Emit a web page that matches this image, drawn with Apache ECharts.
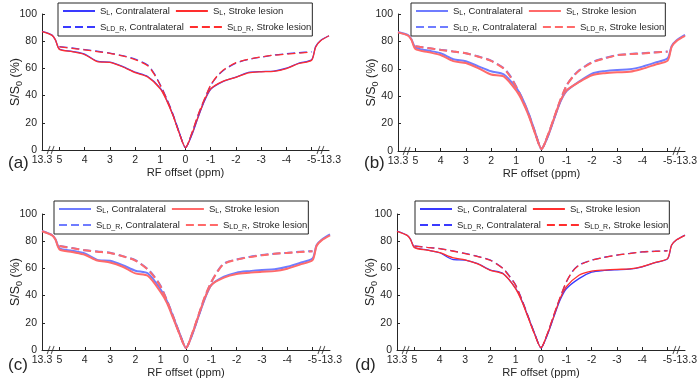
<!DOCTYPE html>
<html>
<head>
<meta charset="utf-8">
<script src="https://cdn.jsdelivr.net/npm/echarts@6/dist/echarts.min.js"></script>
<style>
  html, body { margin: 0; padding: 0; background: #fff; }
  #chart { width: 700px; height: 384px; }
</style>
</head>
<body>
<div id="chart"></div>
<script>
/* Z-spectra, 4 panels (a)-(d) — S_L vs S_LD_R, contralateral vs stroke lesion */

// ------------- data -------------
// RF offsets (ppm). |offset| > 5 falls inside the broken part of the x axis
const ppmSolid = [13.3, 8.5, 6.9, 5, 4.5, 4, 3.5, 3, 2.5, 2, 1.5, 1, 0.75, 0.5, 0.25, 0,
  -0.25, -0.5, -0.75, -1, -1.5, -2, -2.5, -3, -3.5, -4, -4.5, -5, -6.9, -9.3, -13.3];
const ppmLdr = [5, 4.5, 4, 3.5, 3, 2.5, 2, 1.5, 1.25, 1, 0.75, 0.5, 0.25, 0,
  -0.25, -0.5, -0.75, -1, -1.25, -1.5, -2, -2.5, -3, -3.5, -4, -4.5, -5];
const xTickPpm = [13.3, 5, 4, 3, 2, 1, 0, -1, -2, -3, -4, -5, -13.3];
const yTicks = [0, 20, 40, 60, 80, 100];
const panelLabels = ["(a)", "(b)", "(c)", "(d)"];

// S/S0 (%) — panel (a)
const aSlContra  = [87.2, 84.5, 81, 74.3, 72.5, 70.5, 65.3, 64.6, 61.5, 57.2, 54, 45.5, 37, 26, 13, 1.7, 11, 24, 36, 44.7, 50.4, 53.6, 57, 57.7, 58, 60.2, 63.9, 66.3, 76, 80.6, 84];
const aSlLesion  = [87, 84.3, 81, 74, 72.3, 70.2, 65, 64.4, 61.2, 56.9, 53.7, 45, 36.5, 25.5, 12.5, 1.8, 11.5, 24.5, 36.5, 45, 50.6, 53.4, 56.7, 57.5, 57.8, 59.9, 63.6, 66, 75.6, 80.3, 84];
const aLdrContra = [76, 75, 73.8, 72.6, 71.3, 69.4, 66.8, 62.5, 56.5, 48, 38, 26.5, 13, 1.7, 12, 25.5, 37, 47.5, 54, 58.5, 63.9, 66.6, 68.3, 69.8, 70.8, 71.6, 72.2];
const aLdrLesion = [75.8, 74.8, 73.6, 72.4, 71.1, 69.2, 66.5, 62, 56, 47.5, 37.5, 26, 12.5, 1.8, 12.5, 26, 37.5, 47.8, 54.3, 58.8, 64.2, 66.8, 68.4, 69.7, 70.5, 71.2, 72];
// panel (b)
const bSlContra  = [86.8, 84.5, 81.5, 75.5, 73.3, 71.3, 67, 65.5, 61.8, 58.2, 56, 46, 38, 27, 13.5, 1.5, 10.5, 23.5, 36, 44, 50.8, 56.5, 58.3, 59.2, 59.6, 61.6, 64.5, 67.7, 76.5, 80.8, 84.7];
const bSlLesion  = [86.6, 84.3, 81.2, 74.4, 72.2, 70.1, 65.6, 64.2, 60.4, 55.8, 54.5, 44, 36, 25.5, 12.5, 1.5, 11, 24, 36.5, 44.3, 50.4, 55.3, 56.8, 57.5, 57.8, 60, 63, 66, 76, 80.4, 84];
const bLdrContra = [76.5, 75.2, 73.9, 72.7, 71.4, 69, 66, 60.5, 55, 47, 37.5, 26.5, 13.5, 1.5, 11, 24, 37, 48, 54.5, 59, 64.8, 67.8, 70, 70.8, 71.4, 72, 72.6];
const bLdrLesion = [76.5, 75.1, 73.8, 72.6, 71.3, 68.8, 65.8, 60.2, 54.6, 46.5, 37, 26, 13, 1.5, 11.5, 24.5, 37.5, 48, 54.3, 58.8, 64.6, 67.6, 69.9, 70.7, 71.2, 71.9, 72.5];
// panel (c)
const cSlContra  = [87.5, 84.5, 81.5, 74.8, 73, 71, 66.2, 65.6, 62.4, 58.3, 56.3, 44.5, 36, 24, 12, 1.5, 11.5, 25, 38, 47.8, 53.9, 56.9, 58, 58.8, 59.3, 61.2, 64, 67.3, 77, 81, 85];
const cSlLesion  = [87.3, 84.3, 81.2, 74, 72, 70, 65.8, 64.4, 61.2, 56.3, 54.4, 42.5, 34.5, 23, 11.5, 1.5, 12, 25.5, 38.5, 47.8, 53.2, 55.9, 56.8, 57.6, 58, 59.8, 62.8, 66.1, 76.5, 80.6, 84.3];
const cLdrContra = [76.5, 75, 73.4, 72.4, 71.5, 69, 66, 59.3, 54, 47, 36.5, 24.5, 12, 1.5, 12, 25.5, 39, 50, 58, 63.7, 66.6, 68.4, 69.8, 70.8, 71.5, 72.2, 72.7];
const cLdrLesion = [76.4, 74.9, 73.3, 72.3, 71.4, 68.9, 65.8, 59, 53.6, 46.5, 36, 24, 11.5, 1.5, 12.5, 26, 39.5, 50, 57.8, 63.4, 66.4, 68.3, 69.7, 70.7, 71.4, 72.1, 72.6];
// panel (d)
const dSlContra  = [87.5, 84.4, 81.5, 75.5, 73.6, 71.5, 66.6, 66.1, 63.5, 58.8, 56.3, 45.4, 36, 24, 12, 1.6, 11, 24, 36.5, 45, 52.5, 57.2, 58.5, 59, 59.4, 61.2, 64.2, 67, 77, 81, 84.5];
const dSlLesion  = [87.3, 84.3, 81.3, 75.3, 73.4, 71.6, 68, 66.3, 63.3, 58.6, 56, 45, 35.5, 23.5, 11.5, 1.7, 11.5, 24.5, 37.5, 46.5, 55, 58, 58.8, 59.3, 59.6, 61.3, 64.3, 67.2, 77, 81, 84.3];
const dLdrContra = [76.5, 75.5, 74.6, 72.9, 71, 68.8, 66.1, 60, 54.5, 47.8, 37, 24.5, 12, 1.6, 11.5, 25, 38, 50, 58, 62.5, 66.1, 68.2, 69.8, 71, 72.2, 72.6, 73];
const dLdrLesion = [76.4, 75.4, 74.5, 72.8, 70.9, 68.7, 66, 59.8, 54.2, 47.5, 36.5, 24, 11.5, 1.7, 12, 25.5, 38.5, 50, 57.8, 62.3, 66, 68.1, 69.7, 70.9, 72.1, 72.5, 72.9];

// ------------- layout -------------
const PANELS = [
  {key: "a", sl: [aSlContra, aSlLesion], ldr: [aLdrContra, aLdrLesion],
   grid: {left: 42, top: 14, width: 287, height: 136}, legend: {left: 58, top: 3}, label: [8, 155], heavy: false},
  {key: "b", sl: [bSlContra, bSlLesion], ldr: [bLdrContra, bLdrLesion],
   grid: {left: 398, top: 14, width: 289, height: 137}, legend: {left: 411, top: 3}, label: [364, 155], heavy: true},
  {key: "c", sl: [cSlContra, cSlLesion], ldr: [cLdrContra, cLdrLesion],
   grid: {left: 42, top: 214, width: 288, height: 136}, legend: {left: 54, top: 201}, label: [8, 357], heavy: true},
  {key: "d", sl: [dSlContra, dSlLesion], ldr: [dLdrContra, dLdrLesion],
   grid: {left: 397, top: 214, width: 288, height: 136}, legend: {left: 415, top: 201}, label: [355, 357], heavy: false},
];

const BREAK_W = 0.69;     // width given to 5..13.3 ppm on the axis, in ppm units
const FONT = "Liberation Sans, Arial, sans-serif";
const INK = "#262626";
const BLUE = "#3a3aff", RED = "#ff2e2e";
const BLUE_L = "#6f7cff", RED_L = "#ff6a6a";

function toAxis(p) {
  const a = Math.abs(p);
  if (a <= 5) return p;
  return Math.sign(p) * (5 + (a - 5) * BREAK_W / 8.3);
}
function tickText(v) {
  const hit = xTickPpm.find(p => Math.abs(toAxis(p) - v) < 1e-6);
  return hit === undefined ? "" : String(hit);
}
const LEGEND_NAMES = {
  contraSl: "{m|S}{s|L}{m|, Contralateral}",
  lesionSl: "{m|S}{s|L}{m|, Stroke lesion}",
  contraLdr: "{m|S}{s|LD_R}{m|, Contralateral}",
  lesionLdr: "{m|S}{s|LD_R}{m|, Stroke lesion}",
};

const grids = [], xAxes = [], yAxes = [], series = [], legends = [], graphics = [];

PANELS.forEach((pn, i) => {
  grids.push(Object.assign({containLabel: false}, pn.grid));
  xAxes.push({
    type: "value", gridIndex: i, inverse: true,
    min: toAxis(-13.3), max: toAxis(13.3),
    name: "RF offset (ppm)", nameLocation: "middle", nameGap: 17, nameMoveOverlap: false,
    nameTextStyle: {fontFamily: FONT, fontSize: 11.2, color: INK},
    axisLine: {show: true, onZero: false, lineStyle: {color: INK, width: 1}},
    axisTick: {show: true, inside: true, length: 3, lineStyle: {color: INK},
      customValues: xTickPpm.filter(p => Math.abs(p) <= 5).map(toAxis)},
    axisLabel: {show: true, margin: 5, fontFamily: FONT, fontSize: 10.5, color: INK,
      customValues: xTickPpm.map(toAxis), formatter: tickText,
      showMinLabel: true, showMaxLabel: true},
    splitLine: {show: false},
  });
  yAxes.push({
    type: "value", gridIndex: i, min: 0, max: 100, interval: 20,
    name: "{m|S/S}{s|0}{m| (%)}", nameLocation: "middle", nameGap: 18, nameMoveOverlap: false,
    nameTextStyle: {fontFamily: FONT, fontSize: 12.5, color: INK,
      rich: {m: {fontFamily: FONT, fontSize: 12.5, color: INK},
             s: {fontFamily: FONT, fontSize: 9, color: INK, padding: [7, 0, 0, 0]}}},
    axisLine: {show: true, onZero: false, lineStyle: {color: INK, width: 1}},
    axisTick: {show: true, inside: true, length: 3, lineStyle: {color: INK}},
    axisLabel: {margin: 5, fontFamily: FONT, fontSize: 10.5, color: INK},
    splitLine: {show: false},
  });

  const lw = pn.heavy ? 2 : 1.3;
  const cB = pn.heavy ? BLUE_L : BLUE, cR = pn.heavy ? RED_L : RED;
  const defs = [
    {id: "contraSl", xs: ppmSolid, ys: pn.sl[0], color: cB, dash: "solid"},
    {id: "lesionSl", xs: ppmSolid, ys: pn.sl[1], color: cR, dash: "solid"},
    {id: "contraLdr", xs: ppmLdr, ys: pn.ldr[0], color: cB, dash: [8, 4]},
    {id: "lesionLdr", xs: ppmLdr, ys: pn.ldr[1], color: cR, dash: [8, 4]},
  ];
  defs.forEach(d => {
    series.push({
      name: pn.key + ":" + d.id, type: "line", xAxisIndex: i, yAxisIndex: i,
      data: d.xs.map((p, k) => [toAxis(p), d.ys[k]]),
      symbol: "none", showSymbol: false, smooth: 0.25, animation: false,
      lineStyle: {color: d.color, width: lw, type: d.dash},
      itemStyle: {color: d.color},
    });
  });
  // axis-break marks "//"
  series.push({
    type: "scatter", xAxisIndex: i, yAxisIndex: i, silent: true, animation: false,
    data: [[toAxis(9.2), 0], [toAxis(-9.2), 0]],
    symbol: "path://M0,10L3,0M4,10L7,0", symbolSize: [7, 8], clip: false, z: 5,
    itemStyle: {color: "none", borderColor: INK, borderWidth: 1},
  });

  legends.push({
    left: pn.legend.left, top: pn.legend.top, width: 252,
    orient: "horizontal", padding: [3, 1, 3, 4], itemGap: 5,
    itemWidth: 32, itemHeight: 12,
    itemStyle: {opacity: 0},
    backgroundColor: "#fff", borderColor: INK, borderWidth: 1, borderRadius: 0,
    data: defs.map(d => pn.key + ":" + d.id),
    formatter: name => LEGEND_NAMES[name.split(":")[1]],
    textStyle: {fontFamily: FONT, fontSize: 9.5, color: INK, width: 86,
      rich: {m: {fontFamily: FONT, fontSize: 9.5, color: INK},
             s: {fontFamily: FONT, fontSize: 7, color: INK, padding: [5, 0, 0, 0]}}},
    selectedMode: false,
  });

  graphics.push({
    type: "text", left: pn.label[0], top: pn.label[1],
    style: {text: panelLabels[i], font: "17px " + FONT, fill: INK},
  });
});

const chart = echarts.init(document.getElementById("chart"), null, {renderer: "canvas"});
chart.setOption({
  animation: false,
  backgroundColor: "#fff",
  grid: grids, xAxis: xAxes, yAxis: yAxes,
  series: series, legend: legends, graphic: graphics,
});
window.addEventListener("resize", () => chart.resize());
</script>
</body>
</html>
